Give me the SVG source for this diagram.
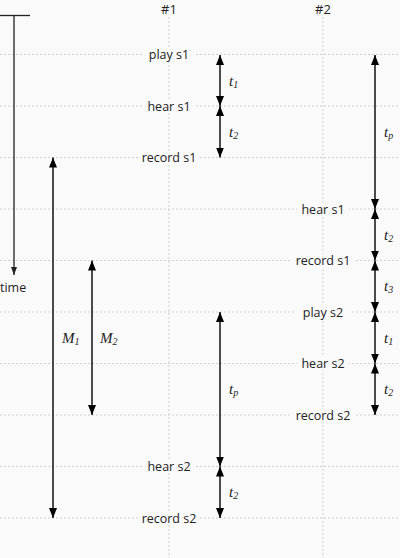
<svg xmlns="http://www.w3.org/2000/svg" width="400" height="558" viewBox="0 0 400 558">
<defs>
<marker id="ah" viewBox="0 0 10 8" refX="10" refY="4" markerWidth="10" markerHeight="8" markerUnits="userSpaceOnUse" orient="auto-start-reverse">
<path d="M0,0 L10,4 L0,8 Z" fill="#000"/>
</marker>
<marker id="ahs" viewBox="0 0 8 6" refX="8" refY="3" markerWidth="8" markerHeight="6" markerUnits="userSpaceOnUse" orient="auto">
<path d="M0,0 L8,3 L0,6 Z" fill="#222"/>
</marker>
</defs>
<style>
.grid{stroke:#cfcfcf;stroke-width:1;stroke-dasharray:2,2;fill:none}
.arr{stroke:#000;stroke-width:1.4;fill:none;marker-start:url(#ah);marker-end:url(#ah)}
.lbl{font-family:"Open Sans","Liberation Sans",sans-serif;font-size:12.5px;fill:#222;text-anchor:middle}
.bg{fill:#fafafa}
.m{font-family:"Liberation Serif","DejaVu Serif",serif;font-style:italic;font-size:15px;fill:#222}
.sub{font-size:10px}
</style>
<rect width="400" height="558" fill="#fafafa"/>
<g id="grid">
<line class="grid" x1="169" y1="17" x2="169" y2="558"/>
<line class="grid" x1="323" y1="17" x2="323" y2="558"/>
<line class="grid" x1="0" y1="54.5" x2="400" y2="54.5"/>
<line class="grid" x1="0" y1="106" x2="400" y2="106"/>
<line class="grid" x1="0" y1="157.5" x2="400" y2="157.5"/>
<line class="grid" x1="0" y1="209" x2="400" y2="209"/>
<line class="grid" x1="0" y1="260.5" x2="400" y2="260.5"/>
<line class="grid" x1="0" y1="312" x2="400" y2="312"/>
<line class="grid" x1="0" y1="363.5" x2="400" y2="363.5"/>
<line class="grid" x1="0" y1="415" x2="400" y2="415"/>
<line class="grid" x1="0" y1="466.5" x2="400" y2="466.5"/>
<line class="grid" x1="0" y1="518" x2="400" y2="518"/>
</g>
<g id="time-axis">
<line x1="0" y1="15.5" x2="30" y2="15.5" stroke="#222" stroke-width="1.3"/>
<line x1="14" y1="15" x2="14" y2="275" stroke="#222" stroke-width="1.3" marker-end="url(#ahs)"/>
<text x="0" y="292" font-family="Open Sans, Liberation Sans, sans-serif" font-size="12.5" fill="#222">time</text>
</g>
<g id="headers">
<text class="lbl" x="169" y="14" style="font-size:13px">#1</text>
<text class="lbl" x="323" y="14" style="font-size:13px">#2</text>
</g>
<g id="col1-labels">
<rect class="bg" x="142" y="48" width="54" height="13"/>
<text class="lbl" x="169" y="59">play s1</text>
<rect class="bg" x="143" y="99.5" width="52" height="13"/>
<text class="lbl" x="169" y="110.5">hear s1</text>
<rect class="bg" x="138" y="151" width="62" height="13"/>
<text class="lbl" x="169" y="162">record s1</text>
<rect class="bg" x="143" y="460" width="52" height="13"/>
<text class="lbl" x="169" y="471">hear s2</text>
<rect class="bg" x="138" y="511.5" width="62" height="13"/>
<text class="lbl" x="169" y="522.5">record s2</text>
</g>
<g id="col2-labels">
<rect class="bg" x="297" y="202.5" width="52" height="13"/>
<text class="lbl" x="323" y="213.5">hear s1</text>
<rect class="bg" x="292" y="254" width="62" height="13"/>
<text class="lbl" x="323" y="265">record s1</text>
<rect class="bg" x="296" y="305.5" width="54" height="13"/>
<text class="lbl" x="323" y="316.5">play s2</text>
<rect class="bg" x="297" y="357" width="52" height="13"/>
<text class="lbl" x="323" y="368">hear s2</text>
<rect class="bg" x="292" y="408.5" width="62" height="13"/>
<text class="lbl" x="323" y="419.5">record s2</text>
</g>
<g id="connectors">
<line class="arr" x1="220" y1="55" x2="220" y2="106"/>
<line class="arr" x1="220" y1="106" x2="220" y2="157.5"/>
<line class="arr" x1="220" y1="312" x2="220" y2="466.5"/>
<line class="arr" x1="220" y1="466.5" x2="220" y2="518"/>
<line class="arr" x1="375" y1="55" x2="375" y2="209"/>
<line class="arr" x1="375" y1="209" x2="375" y2="260.5"/>
<line class="arr" x1="375" y1="260.5" x2="375" y2="312"/>
<line class="arr" x1="375" y1="312" x2="375" y2="363.5"/>
<line class="arr" x1="375" y1="363.5" x2="375" y2="415"/>
<line class="arr" x1="53" y1="157.5" x2="53" y2="518"/>
<line class="arr" x1="92" y1="260.5" x2="92" y2="415"/>
</g>
<g id="interval-labels">
<text class="m" x="229" y="86">t<tspan class="sub" dy="2">1</tspan></text>
<text class="m" x="229" y="137">t<tspan class="sub" dy="2">2</tspan></text>
<text class="m" x="229" y="394">t<tspan class="sub" dy="2">p</tspan></text>
<text class="m" x="229" y="497">t<tspan class="sub" dy="2">2</tspan></text>
<text class="m" x="384" y="137">t<tspan class="sub" dy="2">p</tspan></text>
<text class="m" x="384" y="240">t<tspan class="sub" dy="2">2</tspan></text>
<text class="m" x="384" y="291">t<tspan class="sub" dy="2">3</tspan></text>
<text class="m" x="384" y="343">t<tspan class="sub" dy="2">1</tspan></text>
<text class="m" x="384" y="394">t<tspan class="sub" dy="2">2</tspan></text>
<text class="m" x="62" y="343">M<tspan class="sub" dy="2">1</tspan></text>
<text class="m" x="100" y="343">M<tspan class="sub" dy="2">2</tspan></text>
</g>
</svg>
